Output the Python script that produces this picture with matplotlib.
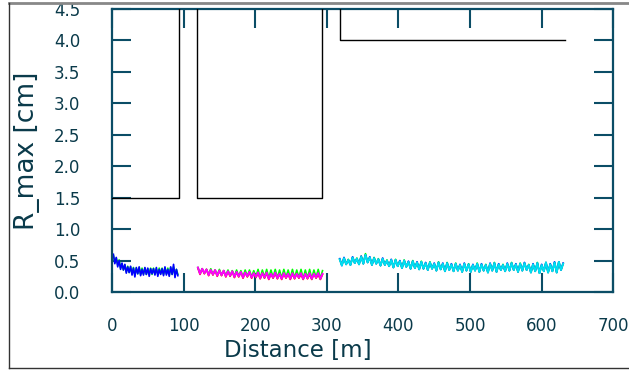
import numpy as np
import matplotlib
matplotlib.use('Agg')
import matplotlib.pyplot as plt
from matplotlib.lines import Line2D

# limit line (black steps)
limit_x = [0, 94, 94, 119, 119, 293, 293, 318, 318, 632]
limit_y = [1.5, 1.5, 5.0, 5.0, 1.5, 1.5, 5.0, 5.0, 4.0, 4.0]

# section 1 (0-94 m), sampled every 2 m
sec1_start = 2
sec1_blue = [0.60, 0.45, 0.55, 0.40, 0.50, 0.36, 0.46, 0.35, 0.44, 0.30,
             0.40, 0.31, 0.41, 0.27, 0.38, 0.24, 0.39, 0.29, 0.40, 0.26,
             0.36, 0.27, 0.39, 0.28, 0.38, 0.25, 0.37, 0.29, 0.37, 0.27,
             0.39, 0.25, 0.36, 0.28, 0.37, 0.26, 0.40, 0.27, 0.36, 0.25,
             0.40, 0.28, 0.44, 0.23, 0.36, 0.26]
sec1_green = [0.58, 0.47, 0.54, 0.43, 0.51, 0.38, 0.45, 0.35, 0.43, 0.32,
              0.41, 0.31, 0.40, 0.29, 0.39, 0.28, 0.38, 0.29, 0.39, 0.28,
              0.38, 0.29, 0.38, 0.28, 0.37, 0.29, 0.38, 0.28, 0.38, 0.29,
              0.37, 0.28, 0.38, 0.29, 0.38, 0.28, 0.38, 0.29, 0.38, 0.27,
              0.39, 0.28, 0.40, 0.27, 0.36, 0.28]

# section 2 (119-293 m), sampled every 3 m
sec2_start = 120
sec2_magenta = [0.39, 0.29, 0.37, 0.30, 0.36, 0.27, 0.35, 0.28, 0.35, 0.26,
                0.34, 0.27, 0.34, 0.25, 0.33, 0.26, 0.33, 0.24, 0.32, 0.25,
                0.32, 0.23, 0.31, 0.25, 0.32, 0.23, 0.30, 0.24, 0.31, 0.22,
                0.30, 0.23, 0.31, 0.21, 0.29, 0.23, 0.31, 0.22, 0.29, 0.21,
                0.30, 0.23, 0.29, 0.21, 0.30, 0.22, 0.29, 0.23, 0.30, 0.21,
                0.29, 0.22, 0.30, 0.21, 0.29, 0.23, 0.30, 0.21, 0.29]
sec2_green = [0.39, 0.30, 0.37, 0.30, 0.36, 0.28, 0.37, 0.28, 0.35, 0.27,
              0.36, 0.27, 0.34, 0.26, 0.35, 0.26, 0.34, 0.25, 0.35, 0.25,
              0.34, 0.24, 0.35, 0.25, 0.35, 0.24, 0.34, 0.24, 0.36, 0.22,
              0.35, 0.23, 0.36, 0.22, 0.35, 0.23, 0.36, 0.22, 0.35, 0.22,
              0.36, 0.23, 0.35, 0.22, 0.36, 0.22, 0.35, 0.23, 0.36, 0.21,
              0.35, 0.22, 0.36, 0.21, 0.35, 0.23, 0.36, 0.21, 0.34]
sec2_red = [0.38, 0.28, 0.37, 0.29, 0.36, 0.26, 0.35, 0.27, 0.35, 0.25,
            0.34, 0.26, 0.34, 0.24, 0.33, 0.25, 0.33, 0.23, 0.32, 0.24,
            0.32, 0.22, 0.31, 0.24, 0.31, 0.22, 0.30, 0.23, 0.30, 0.21,
            0.30, 0.22, 0.30, 0.20, 0.29, 0.22, 0.30, 0.21, 0.29, 0.20,
            0.29, 0.22, 0.29, 0.20, 0.29, 0.21, 0.29, 0.22, 0.28, 0.20,
            0.29, 0.21, 0.28, 0.20, 0.29, 0.22, 0.28, 0.20, 0.28]

# section 3 (318-632 m), sampled every 3 m
sec3_start = 318
sec3_cyan = [0.52, 0.42, 0.54, 0.44, 0.51, 0.43, 0.55, 0.46, 0.53, 0.44,
             0.56, 0.45, 0.59, 0.47, 0.55, 0.43, 0.54, 0.45, 0.52, 0.42,
             0.53, 0.43, 0.50, 0.41, 0.51, 0.39, 0.51, 0.41, 0.49, 0.38,
             0.50, 0.40, 0.48, 0.37, 0.49, 0.38, 0.47, 0.36, 0.48, 0.37,
             0.46, 0.35, 0.47, 0.37, 0.45, 0.34, 0.47, 0.36, 0.45, 0.33,
             0.46, 0.35, 0.44, 0.33, 0.45, 0.34, 0.43, 0.32, 0.45, 0.34,
             0.44, 0.32, 0.43, 0.34, 0.45, 0.32, 0.44, 0.34, 0.43, 0.31,
             0.45, 0.34, 0.46, 0.32, 0.44, 0.35, 0.43, 0.33, 0.45, 0.34,
             0.46, 0.35, 0.44, 0.32, 0.45, 0.34, 0.46, 0.35, 0.43, 0.31,
             0.44, 0.33, 0.46, 0.30, 0.43, 0.33, 0.47, 0.31, 0.44, 0.33,
             0.47, 0.31, 0.48, 0.35, 0.45]
sec3_blue = [0.53, 0.42, 0.55, 0.44, 0.51, 0.43, 0.56, 0.46, 0.53, 0.44,
             0.57, 0.45, 0.59, 0.47, 0.56, 0.43, 0.54, 0.45, 0.52, 0.42,
             0.54, 0.43, 0.50, 0.41, 0.52, 0.39, 0.51, 0.41, 0.50, 0.38,
             0.50, 0.40, 0.49, 0.37, 0.49, 0.38, 0.48, 0.36, 0.48, 0.37,
             0.47, 0.35, 0.47, 0.37, 0.46, 0.34, 0.47, 0.36, 0.46, 0.33,
             0.46, 0.35, 0.45, 0.33, 0.45, 0.34, 0.44, 0.32, 0.46, 0.34,
             0.44, 0.32, 0.44, 0.34, 0.45, 0.32, 0.45, 0.34, 0.43, 0.31,
             0.46, 0.34, 0.46, 0.32, 0.45, 0.35, 0.43, 0.33, 0.46, 0.34,
             0.46, 0.35, 0.45, 0.32, 0.45, 0.34, 0.47, 0.35, 0.43, 0.31,
             0.45, 0.33, 0.46, 0.30, 0.44, 0.33, 0.47, 0.31, 0.45, 0.33,
             0.48, 0.31, 0.48, 0.35, 0.46]
sec3_green = [0.52, 0.43, 0.54, 0.44, 0.52, 0.43, 0.55, 0.46, 0.54, 0.44,
              0.57, 0.45, 0.61, 0.47, 0.55, 0.43, 0.55, 0.45, 0.53, 0.42,
              0.53, 0.43, 0.51, 0.41, 0.51, 0.39, 0.52, 0.41, 0.49, 0.38,
              0.51, 0.40, 0.48, 0.37, 0.50, 0.38, 0.47, 0.36, 0.49, 0.37,
              0.46, 0.35, 0.48, 0.37, 0.45, 0.34, 0.48, 0.36, 0.45, 0.33,
              0.47, 0.35, 0.44, 0.33, 0.46, 0.34, 0.43, 0.32, 0.45, 0.34,
              0.45, 0.32, 0.43, 0.34, 0.46, 0.32, 0.44, 0.34, 0.44, 0.31,
              0.45, 0.34, 0.47, 0.32, 0.44, 0.35, 0.44, 0.33, 0.45, 0.34,
              0.47, 0.35, 0.44, 0.32, 0.46, 0.34, 0.46, 0.35, 0.44, 0.31,
              0.44, 0.33, 0.47, 0.30, 0.43, 0.33, 0.47, 0.31, 0.44, 0.33,
              0.47, 0.31, 0.48, 0.35, 0.45]

text_col = '#0a3a4a'
axis_col = '#0b4d66'

fig = plt.figure(figsize=(6.29, 3.73), dpi=100)
ax = fig.add_axes([0.178, 0.217, 0.797, 0.76])


def dist(start, step, vals):
    return start + step * np.arange(len(vals))


ax.plot(limit_x, limit_y, color='black', lw=1.0, zorder=3)

# section 1
ax.plot(dist(sec1_start, 2, sec1_green), sec1_green, color='#00ff00', lw=1.2)
ax.plot(dist(sec1_start, 2, sec1_blue), sec1_blue, color='#0000ff', lw=1.2)

# section 2
ax.plot(dist(sec2_start, 3, sec2_red), sec2_red, color='#ff0000', lw=1.2)
ax.plot(dist(sec2_start, 3, sec2_green), sec2_green, color='#00ff00', lw=1.2)
ax.plot(dist(sec2_start, 3, sec2_magenta), sec2_magenta, color='#ff00ff', lw=1.4)

# section 3
ax.plot(dist(sec3_start, 3, sec3_green), sec3_green, color='#00ff00', lw=1.2)
ax.plot(dist(sec3_start, 3, sec3_blue), sec3_blue, color='#0000ff', lw=1.2)
ax.plot(dist(sec3_start, 3, sec3_cyan), sec3_cyan, color='#00e0f0', lw=1.4)

ax.set_xlim(0, 700)
ax.set_ylim(0, 4.5)
ax.set_xticks(np.arange(0, 701, 100))
ax.set_yticks(np.arange(0, 4.51, 0.5))
ax.set_yticklabels([f'{v:.1f}' for v in np.arange(0, 4.51, 0.5)])

for s in ax.spines.values():
    s.set_color(axis_col)
    s.set_linewidth(1.6)

ax.tick_params(direction='in', length=14, width=1.5, color=axis_col,
               top=True, right=True, labelsize=12, labelcolor=text_col)
ax.tick_params(axis='y', pad=23)
ax.tick_params(axis='x', pad=18)

ax.set_xlabel('Distance [m]', fontsize=16.5, color=text_col)
ax.xaxis.set_label_coords(0.371, -0.165)
ax.set_ylabel('R_max [cm]', fontsize=19, color=text_col)
ax.yaxis.set_label_coords(-0.143, 0.5)

# outer frame of the figure
fig.add_artist(Line2D([0.014, 1.0], [0.992, 0.992], color='#888888', lw=2))
fig.add_artist(Line2D([0.015, 0.015], [0.992, 0.013], color='#333333', lw=1))
fig.add_artist(Line2D([0.015, 1.0], [0.013, 0.013], color='#333333', lw=1))

fig.savefig('out.png', dpi=100)
